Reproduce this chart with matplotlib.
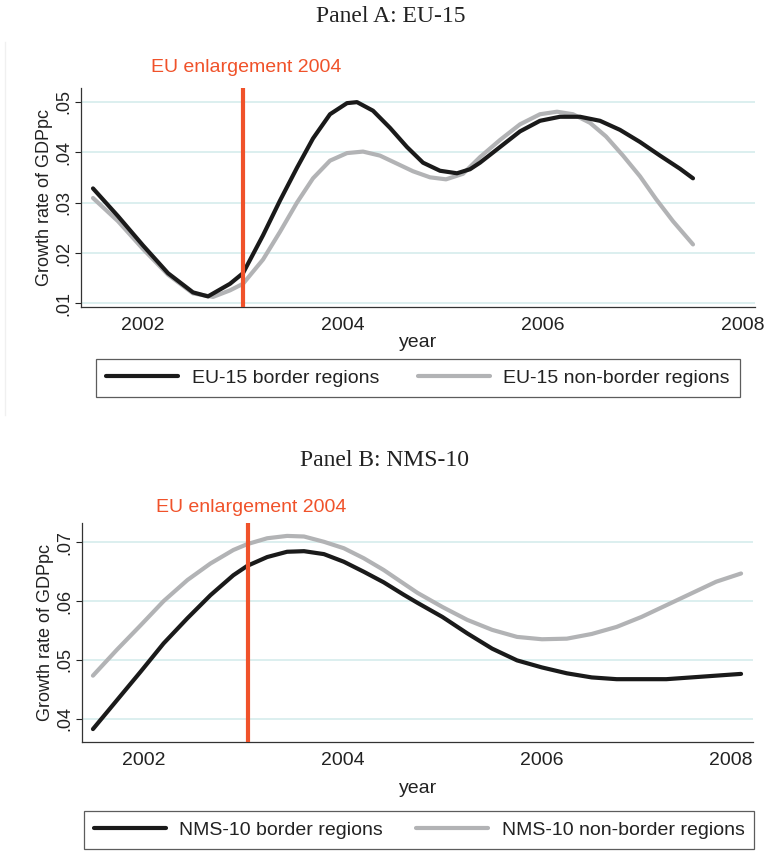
import matplotlib
matplotlib.use("Agg")
from matplotlib import pyplot as plt
from matplotlib.lines import Line2D
from matplotlib.transforms import ScaledTranslation

# Panel A: EU-15 (smoothed growth rates)
years_a_border = [2001.5, 2001.75, 2002.0, 2002.25, 2002.5, 2002.65, 2002.87, 2003.0,
                  2003.2, 2003.37, 2003.54, 2003.7, 2003.87, 2004.04, 2004.14, 2004.3,
                  2004.47, 2004.64, 2004.8, 2004.97, 2005.14, 2005.27, 2005.37, 2005.57,
                  2005.77, 2005.97, 2006.17, 2006.37, 2006.57, 2006.77, 2006.97, 2007.17,
                  2007.37, 2007.5]
eu15_border = [0.0328, 0.0273, 0.0215, 0.0160, 0.0122, 0.0114, 0.0139, 0.0160,
               0.0235, 0.0304, 0.0369, 0.0427, 0.0475, 0.0497, 0.0499, 0.0482,
               0.0448, 0.0410, 0.0379, 0.0363, 0.0358, 0.0366, 0.0379, 0.0410,
               0.0441, 0.0462, 0.0470, 0.0470, 0.0462, 0.0444, 0.0420, 0.0393,
               0.0367, 0.0348]

years_a_nonborder = [2001.5, 2001.75, 2002.0, 2002.25, 2002.5, 2002.7, 2002.87, 2003.0,
                     2003.2, 2003.37, 2003.54, 2003.7, 2003.87, 2004.04, 2004.2, 2004.37,
                     2004.53, 2004.7, 2004.87, 2005.03, 2005.2, 2005.37, 2005.57, 2005.77,
                     2005.97, 2006.14, 2006.3, 2006.47, 2006.63, 2006.8, 2006.97, 2007.13,
                     2007.3, 2007.5]
eu15_nonborder = [0.0309, 0.0263, 0.0208, 0.0157, 0.0120, 0.0113, 0.0126, 0.0139,
                  0.0187, 0.0242, 0.0300, 0.0348, 0.0383, 0.0398, 0.0401, 0.0393,
                  0.0378, 0.0362, 0.0350, 0.0346, 0.0357, 0.0390, 0.0424, 0.0455,
                  0.0475, 0.0480, 0.0475, 0.0458, 0.0431, 0.0393, 0.0352, 0.0307,
                  0.0263, 0.0217]

# Panel B: NMS-10
years_b = [2001.49, 2001.73, 2001.97, 2002.2, 2002.44, 2002.67, 2002.9, 2003.04,
           2003.24, 2003.44, 2003.61, 2003.81, 2004.01, 2004.21, 2004.41, 2004.61,
           2004.75, 2005.0, 2005.25, 2005.5, 2005.75, 2006.0, 2006.25, 2006.5,
           2006.75, 2007.0, 2007.25, 2007.5, 2007.75, 2008.0]
nms10_border = [0.0382, 0.0431, 0.0480, 0.0528, 0.0571, 0.0610, 0.0644, 0.0660,
                0.0675, 0.0684, 0.0685, 0.0680, 0.0667, 0.0650, 0.0632, 0.0611,
                0.0597, 0.0573, 0.0545, 0.0519, 0.0499, 0.0487, 0.0477, 0.0470,
                0.0467, 0.0467, 0.0467, 0.0470, 0.0473, 0.0476]
nms10_nonborder = [0.0473, 0.0517, 0.0559, 0.0600, 0.0636, 0.0664, 0.0687, 0.0697,
                   0.0707, 0.0711, 0.0710, 0.0701, 0.0690, 0.0673, 0.0653, 0.0630,
                   0.0614, 0.0590, 0.0568, 0.0551, 0.0539, 0.0535, 0.0536, 0.0544,
                   0.0556, 0.0573, 0.0593, 0.0613, 0.0633, 0.0647]

# position of the vertical marker as drawn in each panel
enlargement_a = 2003.0
enlargement_b = 2003.05
xticks = [2002, 2004, 2006, 2008]
yticks_a = [0.01, 0.02, 0.03, 0.04, 0.05]
ytick_labels_a = [".01", ".02", ".03", ".04", ".05"]
yticks_b = [0.04, 0.05, 0.06, 0.07]
ytick_labels_b = [".04", ".05", ".06", ".07"]

BLACK = "#1a1a1a"
GREY = "#b2b3b5"
RED = "#f0522a"
GRID = "#d9eeee"
TXT = "#222222"

plt.rcParams["font.family"] = ["Liberation Sans", "DejaVu Sans"]

W, H = 767, 855
fig = plt.figure(figsize=(W / 100, H / 100), dpi=100)


def box(l, t, r, b):
    return [l / W, 1 - b / H, (r - l) / W, (b - t) / H]


def panel(rect, x1, s1, x2, s2, labels, vline, ylim, yticks, ylabels, year_y, leg_xy,
          title, title_xy, label_off, colspace):
    ax = fig.add_axes(rect)
    ax.plot(x1, s1, color=BLACK, lw=3.0, solid_capstyle="round",
            solid_joinstyle="round", label=labels[0], zorder=3)
    ax.plot(x2, s2, color=GREY, lw=3.0, solid_capstyle="round",
            solid_joinstyle="round", label=labels[1], zorder=2)
    ax.axvline(vline, color=RED, lw=3.0, zorder=4, solid_capstyle="round")
    ax.set_xlim(2001.38, 2008.12)
    ax.set_ylim(*ylim)
    ax.set_xticks(xticks)
    ax.set_yticks(yticks)
    ax.set_yticklabels(ylabels, rotation=90, va="center")
    ax.tick_params(axis="x", length=0, labelsize=14, pad=7, colors=TXT)
    ax.tick_params(axis="y", length=4, width=0.8, labelsize=13, pad=2, colors=TXT)
    ax.grid(axis="y", color=GRID, lw=1.3, zorder=0)
    ax.set_axisbelow(True)
    for s in ["top", "right"]:
        ax.spines[s].set_visible(False)
    for s in ["left", "bottom"]:
        ax.spines[s].set_color("#333333")
        ax.spines[s].set_linewidth(0.9)
    ax.set_ylabel("Growth rate of GDPpc", fontsize=13, color=TXT, labelpad=2)
    ax.annotate("EU enlargement 2004", (vline, 1.0),
                xycoords=ax.get_xaxis_transform(), xytext=(2, label_off),
                textcoords="offset points", ha="center", va="center",
                color=RED, fontsize=14)
    fig.text(418 / W, 1 - year_y / H, "year", ha="center", va="center",
             fontsize=14, color=TXT)
    fig.text(title_xy[0] / W, 1 - title_xy[1] / H, title, ha="center", va="center",
             fontsize=17, family=["Liberation Serif", "DejaVu Serif"], color=TXT)
    leg = fig.legend(*ax.get_legend_handles_labels(), loc="center",
                     bbox_to_anchor=(leg_xy[0] / W, 1 - leg_xy[1] / H), ncol=2,
                     fontsize=14, frameon=True, fancybox=False, edgecolor="#333333",
                     handlelength=3.7, handletextpad=0.7, columnspacing=colspace,
                     borderpad=0.5)
    leg.get_frame().set_linewidth(0.9)
    for t in leg.get_texts():
        t.set_color(TXT)
    return ax


panel(box(81, 88, 755, 307), years_a_border, eu15_border, years_a_nonborder,
      eu15_nonborder, ["EU-15 border regions", "EU-15 non-border regions"],
      enlargement_a, (0.0093, 0.0527), yticks_a, ytick_labels_a, 342, (418, 378),
      "Panel A: EU-15", (391, 16), 14.5, 2.0)

ax_b = panel(box(82, 523, 753, 742), years_b, nms10_border, years_b, nms10_nonborder,
             ["NMS-10 border regions", "NMS-10 non-border regions"],
             enlargement_b, (0.0360, 0.0733), yticks_b, ytick_labels_b, 788, (419, 830),
             "Panel B: NMS-10", (384, 460), 11.5, 1.7)

# last year label in panel B sits flush with the axis end
last = ax_b.get_xticklabels()[-1]
last.set_transform(last.get_transform() + ScaledTranslation(-0.10, 0, fig.dpi_scale_trans))

# faint outline of the first graph region
fig.add_artist(Line2D([5 / W, 5 / W], [1 - 415 / H, 1 - 42 / H], color="#f0f0f0", lw=1))

fig.savefig("out.png", dpi=100, facecolor="white")
